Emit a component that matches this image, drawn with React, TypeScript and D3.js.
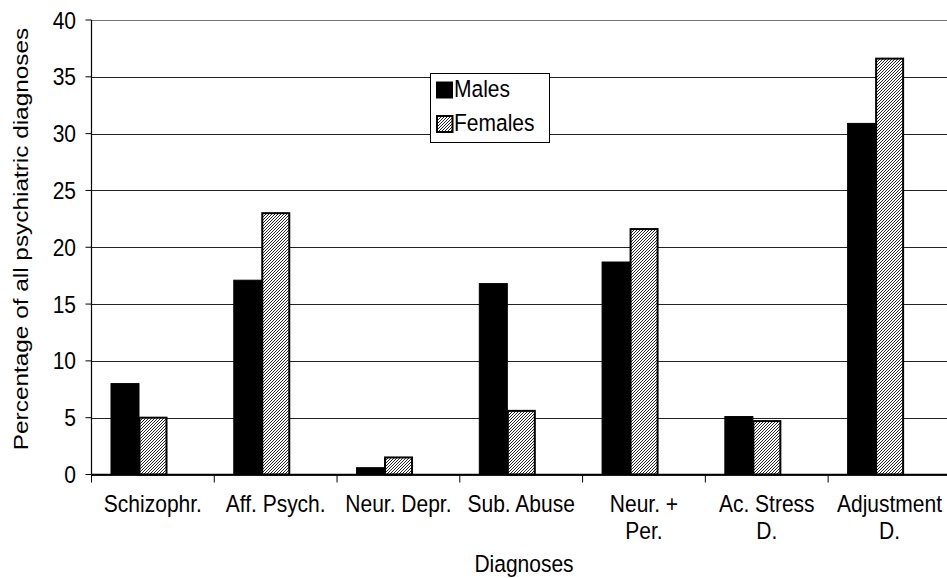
import React from "react";
import * as d3 from "d3";

// Share of all psychiatric diagnoses (%) by diagnosis group and sex
const categories: string[][] = [
  ["Schizophr."],
  ["Aff. Psych."],
  ["Neur. Depr."],
  ["Sub. Abuse"],
  ["Neur. +", "Per."],
  ["Ac. Stress", "D."],
  ["Adjustment", "D."],
];
const males: number[] = [8.0, 17.1, 0.6, 16.8, 18.7, 5.1, 30.9];
const females: number[] = [5.0, 23.0, 1.5, 5.6, 21.6, 4.7, 36.6];
const seriesNames: string[] = ["Males", "Females"];
const yTicks: number[] = [0, 5, 10, 15, 20, 25, 30, 35, 40];

const W = 947;
const H = 578;
const FONT = "'Liberation Sans', Arial, Helvetica, sans-serif";
const FS = 21;
// glyphs are drawn slightly taller than wide
const SY = 1.16;

function Label(props: {
  x: number;
  y: number;
  anchor?: "start" | "middle" | "end";
  dy?: string;
  children: React.ReactNode;
}) {
  return (
    <text
      transform={`translate(${props.x},${props.y}) scale(1,${SY})`}
      textAnchor={props.anchor || "start"}
      dy={props.dy}
      fontSize={FS}
      fill="#000"
    >
      {props.children}
    </text>
  );
}

export default function App() {
  const keys = categories.map((c) => c.join(" "));
  const x0 = d3
    .scaleBand<string>()
    .domain(keys)
    .range([91.5, 91.5 + 7 * 122.77])
    .padding(0);
  const x1 = d3
    .scaleBand<string>()
    .domain(seriesNames)
    .range([19.5, 75.5])
    .padding(0);
  const y = d3.scaleLinear().domain([0, 40]).range([474.5, 20]);

  const plotLeft = 91.5;
  const plotRight = W;
  const bw = x1.bandwidth();
  const bounds = keys.map((k) => x0(k)!).concat([x0.range()[1]]);

  const data = keys.map((k, i) => ({ key: k, lines: categories[i], m: males[i], f: females[i] }));

  return (
    <div style={{ position: "absolute", left: 0, top: 0 }}>
      <svg width={W} height={H} style={{ display: "block", background: "#fff" }} fontFamily={FONT}>
        <defs>
          <pattern id="hatch" patternUnits="userSpaceOnUse" width="3" height="3">
            <rect width="3" height="3" fill="#fff" />
            <path d="M-1,1 l2,-2 M0,3 l3,-3 M2,4 l2,-2" stroke="#000" strokeWidth="0.85" />
          </pattern>
        </defs>

        {/* horizontal gridlines */}
        {yTicks.map((t) => (
          <line
            key={"g" + t}
            x1={plotLeft}
            x2={plotRight}
            y1={Math.round(y(t)) + 0.5}
            y2={Math.round(y(t)) + 0.5}
            stroke={t === 40 ? "#777" : "#222"}
            strokeWidth={1}
            shapeRendering="crispEdges"
          />
        ))}

        {/* bars */}
        {data.map((d) => (
          <g key={d.key}>
            <rect
              x={x0(d.key)! + x1("Males")!}
              y={y(d.m)}
              width={bw}
              height={y(0) - y(d.m)}
              fill="#000"
              stroke="#000"
              strokeWidth={1}
            />
            <rect
              x={x0(d.key)! + x1("Females")! + 0.5}
              y={y(d.f)}
              width={bw - 1}
              height={y(0) - y(d.f)}
              fill="url(#hatch)"
              stroke="#000"
              strokeWidth={2}
            />
          </g>
        ))}

        {/* y axis */}
        <line x1={plotLeft} x2={plotLeft} y1={y(40)} y2={y(0)} stroke="#000" strokeWidth={1.2} />
        {yTicks.map((t) => (
          <g key={"yt" + t}>
            <line x1={plotLeft - 6} x2={plotLeft} y1={y(t)} y2={y(t)} stroke="#000" strokeWidth={1} />
            <Label x={76} y={y(t)} anchor="end" dy="0.35em">
              {t}
            </Label>
          </g>
        ))}

        {/* x axis */}
        <line x1={plotLeft} x2={plotRight} y1={y(0)} y2={y(0)} stroke="#000" strokeWidth={1.5} />
        {bounds.map((b, i) => (
          <line key={"xt" + i} x1={b} x2={b} y1={y(0)} y2={y(0) + 8} stroke="#000" strokeWidth={1} />
        ))}
        {data.map((d) => {
          const cx = x0(d.key)! + x0.bandwidth() / 2;
          return (
            <Label key={"xl" + d.key} x={cx} y={512} anchor="middle">
              {d.lines.map((ln, j) => (
                <tspan key={j} x={0} dy={j === 0 ? 0 : 27.5 / SY}>
                  {ln}
                </tspan>
              ))}
            </Label>
          );
        })}

        {/* axis titles */}
        <Label x={524} y={572} anchor="middle">
          Diagnoses
        </Label>
        <text
          transform={`translate(28,239) scale(1,${SY}) rotate(-90)`}
          textAnchor="middle"
          fontSize={FS}
          fill="#000"
        >
          Percentage of all psychiatric diagnoses
        </text>

        {/* legend */}
        <g>
          <rect x={430.5} y={73.5} width={119} height={69} fill="#fff" stroke="#000" strokeWidth={1} />
          <rect x={436.5} y={82} width={16} height={16} fill="#000" stroke="#000" strokeWidth={1} />
          <Label x={454} y={97}>
            {seriesNames[0]}
          </Label>
          <rect x={437} y={116} width={15.5} height={16} fill="url(#hatch)" stroke="#000" strokeWidth={2} />
          <Label x={454} y={131}>
            {seriesNames[1]}
          </Label>
        </g>
      </svg>
    </div>
  );
}
